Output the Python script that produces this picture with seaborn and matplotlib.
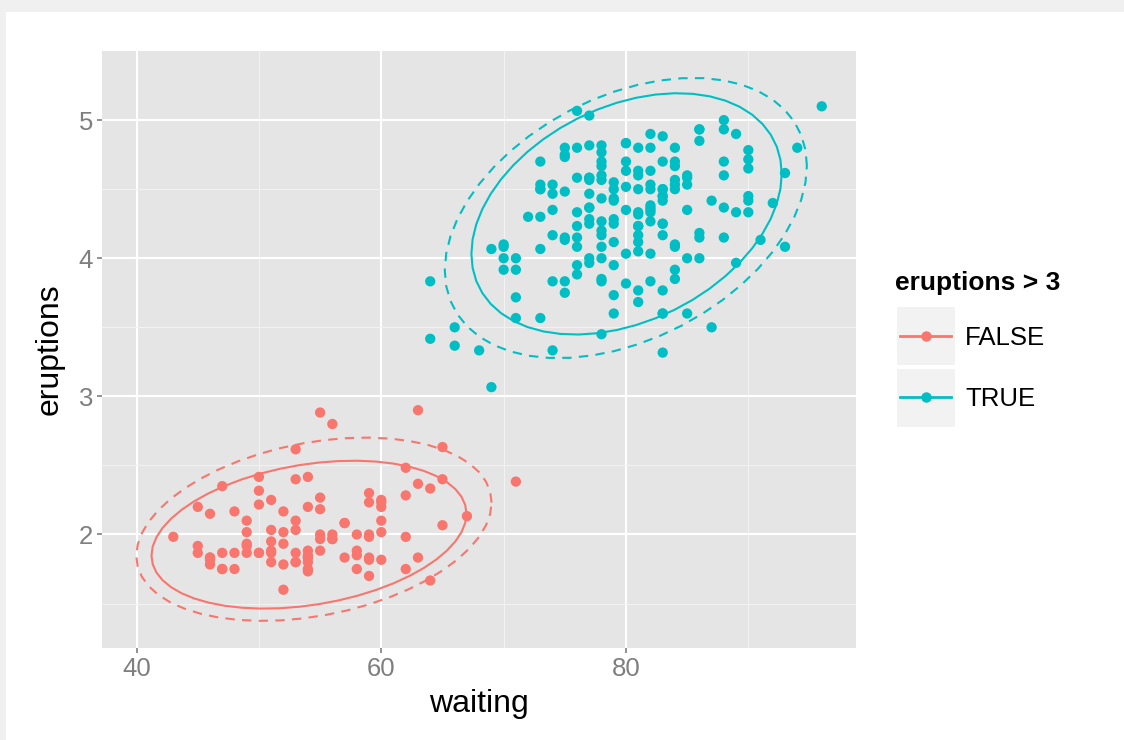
import numpy as np
import pandas as pd
import matplotlib
matplotlib.use("Agg")
import matplotlib.pyplot as plt
from matplotlib.lines import Line2D
from matplotlib.patches import Rectangle
import seaborn as sns

# Old Faithful geyser data (eruptions in minutes, waiting in minutes)
eruptions = [3.600,1.800,3.333,2.283,4.533,2.883,4.700,3.600,1.950,4.350,1.833,3.917,4.200,1.750,4.700,2.167,1.750,4.800,1.600,4.250,
1.800,1.750,3.450,3.067,4.533,3.600,1.967,4.083,3.850,4.433,4.300,4.467,3.367,4.033,3.833,2.017,1.867,4.833,1.833,4.783,
4.350,1.883,4.567,1.750,4.533,3.317,3.833,2.100,4.633,2.000,4.800,4.716,1.833,4.833,1.733,4.883,3.717,1.667,4.567,4.317,
2.233,4.500,1.750,4.800,1.817,4.400,4.167,4.700,2.067,4.700,4.033,1.967,4.500,4.000,1.983,5.067,2.017,4.567,3.883,3.600,
4.133,4.333,4.100,2.633,4.067,4.933,3.950,4.517,2.167,4.000,2.200,4.333,1.867,4.817,1.833,4.300,4.667,3.750,1.867,4.900,
2.483,4.367,2.100,4.500,4.050,1.867,4.700,1.783,4.850,3.683,4.733,2.300,4.900,4.417,1.700,4.633,2.317,4.600,1.817,4.417,
2.617,4.067,4.250,1.967,4.600,3.767,1.917,4.500,2.267,4.650,1.867,4.167,2.800,4.333,1.833,4.383,1.883,4.933,2.033,3.733,
4.233,2.233,4.533,4.817,4.333,1.983,4.633,2.017,5.100,1.800,5.033,4.000,2.400,4.600,3.567,4.000,4.500,4.083,1.800,3.967,
2.200,4.150,2.000,3.833,3.500,4.583,2.367,5.000,1.933,4.617,1.917,2.083,4.583,3.333,4.167,4.333,4.500,2.417,4.000,4.167,
1.883,4.583,4.250,3.767,2.033,4.433,4.083,1.833,4.417,2.183,4.800,1.833,4.800,4.100,3.966,4.233,3.500,4.366,2.250,4.667,
2.100,4.350,4.133,1.867,4.600,1.783,4.367,3.850,1.933,4.500,2.383,4.700,1.867,3.833,3.417,4.233,2.400,4.800,2.000,4.150,
1.867,4.267,1.750,4.483,4.000,4.117,4.083,4.267,3.917,4.550,4.083,2.417,4.183,2.217,4.450,1.883,1.850,4.283,3.950,2.333,
4.150,2.350,4.933,2.900,4.583,3.833,2.083,4.367,2.133,4.350,2.200,4.450,3.567,4.500,4.150,3.817,3.917,4.450,2.000,4.283,
4.767,4.533,1.850,4.250,1.983,2.250,4.750,4.117,2.150,4.417,1.817,4.467]
waiting = [79,54,74,62,85,55,88,85,51,85,54,84,78,47,83,52,62,84,52,79,
51,47,78,69,74,83,55,76,78,79,73,77,66,80,74,52,48,80,59,90,
80,58,84,58,73,83,64,53,82,59,75,90,54,80,54,83,71,64,77,81,
59,84,48,82,60,92,78,78,65,73,82,56,79,71,62,76,60,78,76,83,
75,82,70,65,73,88,76,80,48,86,60,90,50,78,63,72,84,75,51,82,
62,88,49,83,81,47,84,52,86,81,75,59,89,79,59,81,50,85,59,87,
53,69,77,56,88,81,45,82,55,90,45,83,56,89,46,82,51,86,53,79,
81,60,82,77,76,59,80,49,96,53,77,77,65,81,71,70,81,93,53,89,
45,86,58,78,66,76,63,88,52,93,49,57,77,68,81,81,73,50,85,74,
55,77,83,83,51,78,84,46,83,55,81,57,76,84,77,81,87,77,51,78,
60,82,91,53,78,46,77,84,49,83,71,80,49,75,64,76,53,94,55,76,
50,82,54,75,78,79,78,78,70,79,70,54,86,50,90,54,54,77,79,64,
75,47,86,63,85,82,57,82,67,74,54,83,73,73,88,80,71,83,56,79,
78,84,58,83,43,60,75,81,46,90,46,74]

group_labels = ["FALSE", "TRUE"]
palette = {"FALSE": "#F8766D", "TRUE": "#00BFC4"}

df = pd.DataFrame({"waiting": waiting, "eruptions": eruptions})
df["grp"] = np.where(df["eruptions"] > 3, "TRUE", "FALSE")

FONT = "Liberation Sans"


def cov_trob(x, nu=5, maxit=25, tol=0.01):
    n, p = x.shape
    loc = x.mean(axis=0)
    w = np.ones(n)
    X = x - loc
    for _ in range(maxit):
        w0 = w
        X = x - loc
        S = (w[:, None] * X).T @ X / w.sum()
        Q = np.einsum("ij,jk,ik->i", X, np.linalg.inv(S), X)
        w = (nu + p) / (nu + Q)
        loc = (w[:, None] * x).sum(axis=0) / w.sum()
        if np.all(np.abs(w - w0) < tol):
            break
    cov = (w[:, None] * X).T @ X / n
    return loc, cov


def ellipse(x, kind, level=0.95, segments=51):
    n = x.shape[0]
    if kind == "t":
        center, shape = cov_trob(x)
    else:
        center = x.mean(axis=0)
        shape = np.cov(x.T)
    dfd = n - 1
    # qf(level, 2, dfd) closed form
    qf = dfd / 2.0 * ((1 - level) ** (-2.0 / dfd) - 1)
    radius = np.sqrt(2 * qf)
    ang = np.linspace(0, 2 * np.pi, segments)
    circ = np.column_stack([np.cos(ang), np.sin(ang)])
    L = np.linalg.cholesky(shape)
    pts = center + radius * circ @ L.T
    return pts


ells = {}
for g in group_labels:
    sub = df[df["grp"] == g][["waiting", "eruptions"]].to_numpy(float)
    ells[(g, "t")] = ellipse(sub, "t")
    ells[(g, "norm")] = ellipse(sub, "norm")

allx = np.concatenate([df["waiting"].to_numpy(float)] + [e[:, 0] for e in ells.values()])
ally = np.concatenate([df["eruptions"].to_numpy(float)] + [e[:, 1] for e in ells.values()])
xr = allx.max() - allx.min()
yr = ally.max() - ally.min()
xlim = (allx.min() - 0.05 * xr, allx.max() + 0.05 * xr)
ylim = (ally.min() - 0.05 * yr, ally.max() + 0.05 * yr)

W, H = 1124, 740
fig = plt.figure(figsize=(W / 100, H / 100), dpi=100, facecolor="white")
# light border strips
fig.patches.append(Rectangle((0, 1 - 12 / H), 1, 12 / H, transform=fig.transFigure,
                             facecolor="#F0F0F0", edgecolor="none", zorder=-10))
fig.patches.append(Rectangle((0, 0), 6 / W, 1, transform=fig.transFigure,
                             facecolor="#F0F0F0", edgecolor="none", zorder=-10))

ax = fig.add_axes([102 / W, 1 - 648 / H, (856 - 102) / W, (648 - 51) / H])
ax.set_facecolor("#E5E5E5")
for s in ax.spines.values():
    s.set_visible(False)

ax.set_xlim(*xlim)
ax.set_ylim(*ylim)
xt = [40, 60, 80]
yt = [2, 3, 4, 5]
ax.set_xticks(xt)
ax.set_yticks(yt)
ax.set_xticks([50, 70, 90], minor=True)
ax.set_yticks([1.5, 2.5, 3.5, 4.5], minor=True)
ax.grid(which="major", color="white", linewidth=1.5, zorder=0)
ax.grid(which="minor", color="#F2F2F2", linewidth=0.8, zorder=0)
ax.set_axisbelow(True)
ax.tick_params(which="major", length=3.5, width=1.2, color="#7F7F7F",
               labelcolor="#7F7F7F", labelsize=18.5, pad=3)
ax.tick_params(which="minor", length=0)
for lab in ax.get_xticklabels() + ax.get_yticklabels():
    lab.set_fontfamily(FONT)

sns.scatterplot(data=df, x="waiting", y="eruptions", hue="grp", palette=palette,
                hue_order=group_labels, s=55, linewidth=0, ax=ax, legend=False, zorder=3)

for g in group_labels:
    et = ells[(g, "t")]
    en = ells[(g, "norm")]
    ax.plot(en[:, 0], en[:, 1], color=palette[g], lw=1.5, dashes=(4.5, 3.5), zorder=4)
    ax.plot(et[:, 0], et[:, 1], color=palette[g], lw=1.5, zorder=4)

ax.set_xlabel("waiting", fontsize=23, fontfamily=FONT, color="black", labelpad=6)
ax.set_ylabel("eruptions", fontsize=23, fontfamily=FONT, color="black", labelpad=10)

# legend (ggplot style)
fig.text(895 / W, 1 - 290 / H, "eruptions > 3", fontsize=19, fontweight="bold",
         fontfamily=FONT, ha="left", va="baseline")
lax = fig.add_axes([0, 0, 1, 1], facecolor="none")
lax.set_xlim(0, W)
lax.set_ylim(H, 0)
lax.axis("off")
key_top = [306, 367.5]
for g, top in zip(group_labels, key_top):
    lax.add_patch(Rectangle((896, top), 59, 59, facecolor="#F2F2F2", edgecolor="white", lw=0.8))
    cy = top + 29.5
    lax.add_line(Line2D([900, 951], [cy, cy], color=palette[g], lw=2.0))
    lax.add_line(Line2D([925.5], [cy], marker="o", markersize=7.5, color=palette[g],
                        markeredgewidth=0))
    lax.text(965, cy + 9.5, g, fontsize=18.5, fontfamily=FONT, ha="left", va="baseline")

fig.savefig("out.png", dpi=100, facecolor=fig.get_facecolor())
